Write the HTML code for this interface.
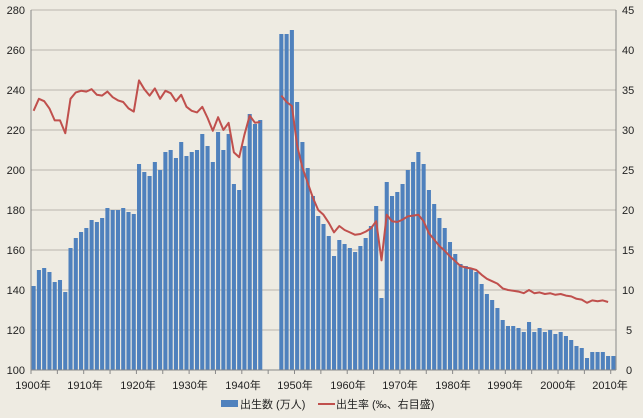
<!DOCTYPE html>
<html><head><meta charset="utf-8"><style>
body{margin:0;background:#eeebe2;}
svg{display:block;font-family:"Liberation Sans","Noto Sans CJK JP",sans-serif;}
</style></head><body>
<svg id="c" width="643" height="418" viewBox="0 0 643 418">
<rect width="643" height="418" fill="#eeebe2"/>
<g id="grid"></g><g id="bars"></g>
<polyline id="ln" fill="none" stroke="#c0504d" stroke-width="2" stroke-linejoin="round"/>
<polyline id="ln2" fill="none" stroke="#c0504d" stroke-width="2" stroke-linejoin="round"/>
<line x1="31" y1="10" x2="31" y2="370" stroke="#888"/>
<line x1="616" y1="10" x2="616" y2="370" stroke="#888"/>
<line x1="31" y1="370" x2="616" y2="370" stroke="#888"/>
<g font-size="11" fill="#222" text-anchor="end">
<text x="25" y="14">280</text><text x="25" y="54">260</text><text x="25" y="94">240</text><text x="25" y="134">220</text><text x="25" y="174">200</text><text x="25" y="214">180</text><text x="25" y="254">160</text><text x="25" y="294">140</text><text x="25" y="334">120</text><text x="25" y="374">100</text>
</g>
<g font-size="11" fill="#222" text-anchor="start">
<text x="622" y="14">45</text><text x="622" y="54">40</text><text x="622" y="94">35</text><text x="622" y="134">30</text><text x="622" y="174">25</text><text x="622" y="214">20</text><text x="622" y="254">15</text><text x="622" y="294">10</text><text x="626" y="334">5</text><text x="626" y="374">0</text>
</g>
<g font-size="11" fill="#222" text-anchor="middle">
<text x="33" y="389">1900年</text><text x="85" y="389">1910年</text><text x="138" y="389">1920年</text><text x="190" y="389">1930年</text><text x="243" y="389">1940年</text><text x="295" y="389">1950年</text><text x="348" y="389">1960年</text><text x="400" y="389">1970年</text><text x="453" y="389">1980年</text><text x="505" y="389">1990年</text><text x="558" y="389">2000年</text><text x="610" y="389">2010年</text>
</g>
<rect x="221" y="400" width="17" height="7" fill="#4f81bd"/>
<text x="240" y="408" font-size="11" fill="#222">出生数 (万人)</text>
<line x1="318" y1="404" x2="335" y2="404" stroke="#c0504d" stroke-width="2"/>
<text x="336" y="408" font-size="11" fill="#222">出生率 (‰、右目盛)</text>
</svg>
<script>
var B=[142,150,151,149,144,145,139,161,166,169,171,175,174,176,181,180,180,181,179,178,203,199,197,204,200,209,210,206,214,207,209,210,218,212,204,219,210,218,193,190,212,228,223,225,null,null,null,268,268,270,234,214,201,187,177,173,167,157,165,163,161,159,162,166,172,182,136,194,187,189,193,200,204,209,203,190,183,176,171,164,158,153,152,151,149,143,138,135,131,125,122,122,121,119,124,119,121,119,120,118,119,117,115,112,111,106,109,109,109,107,107];
var R=[32.4,33.9,33.6,32.7,31.2,31.2,29.6,33.9,34.7,34.9,34.8,35.1,34.4,34.3,34.8,34.1,33.7,33.5,32.7,32.3,36.2,35.1,34.3,35.2,33.9,34.9,34.6,33.6,34.4,32.9,32.4,32.2,32.9,31.5,29.9,31.6,30.0,30.9,27.2,26.6,29.4,31.8,30.9,31.0,null,null,null,34.3,33.5,33.0,28.1,25.3,23.4,21.5,20.0,19.4,18.4,17.2,18.0,17.5,17.2,16.9,17.0,17.3,17.7,18.6,13.7,19.4,18.6,18.5,18.8,19.2,19.3,19.4,18.6,17.1,16.3,15.5,14.9,14.2,13.6,13.0,12.8,12.7,12.5,11.9,11.4,11.1,10.8,10.2,10.0,9.9,9.8,9.6,10.0,9.6,9.7,9.5,9.6,9.4,9.5,9.3,9.2,8.9,8.8,8.4,8.7,8.6,8.7,8.5];
var s=585/111,ns="http://www.w3.org/2000/svg",g=document.getElementById('grid'),b=document.getElementById('bars');
for(var v=120;v<=280;v+=20){var l=document.createElementNS(ns,'line');var y=370-(v-100)*2;l.setAttribute('x1',31);l.setAttribute('x2',616);l.setAttribute('y1',y);l.setAttribute('y2',y);l.setAttribute('stroke','#b9b6ae');l.setAttribute('stroke-width','1');g.appendChild(l);}
for(var t=0;t<=22;t++){var l=document.createElementNS(ns,'line');var x=31+t*5*s;l.setAttribute('x1',x);l.setAttribute('x2',x);l.setAttribute('y1',370);l.setAttribute('y2',374);l.setAttribute('stroke','#888');g.appendChild(l);}
var p1=[],p2=[];
for(var i=0;i<B.length;i++){if(B[i]!=null){var r=document.createElementNS(ns,'rect');r.setAttribute('x',31+i*s+0.6);r.setAttribute('width',s-1.2);r.setAttribute('y',370-(B[i]-100)*2);r.setAttribute('height',(B[i]-100)*2);r.setAttribute('fill','#4f81bd');b.appendChild(r);}}
for(var i=0;i<R.length;i++){if(R[i]==null)continue;var pt=(31+i*s+s/2).toFixed(1)+','+(370-R[i]*8).toFixed(1);(i<44?p1:p2).push(pt);}
document.getElementById('ln').setAttribute('points',p1.join(' '));
document.getElementById('ln2').setAttribute('points',p2.join(' '));
</script>
</body></html>
